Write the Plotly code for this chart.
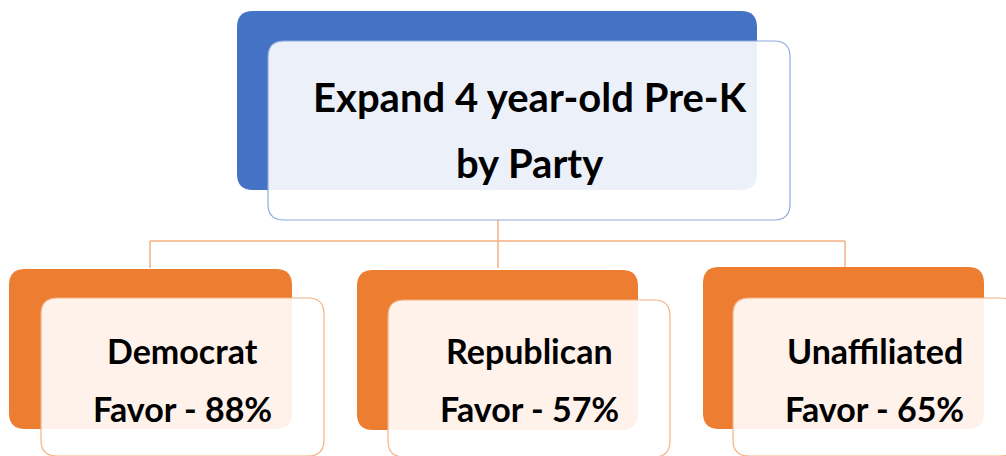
import plotly.graph_objects as go

# ---- data ----
title_lines = ["Expand 4 year-old Pre-K", "by Party"]
parties = ["Democrat", "Republican", "Unaffiliated"]
favor_pct = [88, 57, 65]

# ---- layout geometry (pixels, y downward) ----
W, H = 1006, 456
BLUE = "#4472C4"
ORANGE = "#ED7D31"
FONT = "Lato"

def rrect(x0, y0, x1, y1, r):
    return (f"M{x0+r},{y0} L{x1-r},{y0} Q{x1},{y0} {x1},{y0+r} "
            f"L{x1},{y1-r} Q{x1},{y1} {x1-r},{y1} L{x0+r},{y1} "
            f"Q{x0},{y1} {x0},{y1-r} L{x0},{y0+r} Q{x0},{y0} {x0+r},{y0} Z")

shapes = []
annotations = []

# connectors
conn = dict(color="#F4B183", width=1.5)
shapes.append(dict(type="line", x0=498, y0=220, x1=498, y1=241, line=conn, xref="x", yref="y"))
shapes.append(dict(type="line", x0=150, y0=241, x1=845, y1=241, line=conn, xref="x", yref="y"))
child_back = [(9, 269, 292, 429), (357, 270, 638, 430), (703, 267, 984, 429)]
child_front = [(41, 298, 324, 456), (388, 300, 670, 457), (733, 298, 1016, 456)]
for cx in [150, 498, 845]:
    shapes.append(dict(type="line", x0=cx, y0=241, x1=cx, y1=268, line=conn, xref="x", yref="y"))

# top box
shapes.append(dict(type="path", path=rrect(237, 11, 757, 190, 16), fillcolor=BLUE,
                   line=dict(width=0), xref="x", yref="y"))
shapes.append(dict(type="path", path=rrect(268, 41, 790, 220, 16),
                   fillcolor="rgba(255,255,255,0.9)", line=dict(color="#8FAADC", width=1.2),
                   xref="x", yref="y"))
title_cx = 530
for line, cy in zip(title_lines, [97, 163]):
    annotations.append(dict(x=title_cx, y=cy, text=f"<b>{line}</b>", showarrow=False,
                            xref="x", yref="y", xanchor="center", yanchor="middle",
                            font=dict(family=FONT, size=40, color="#000000")))

# child boxes
for (b, f, name, pct) in zip(child_back, child_front, parties, favor_pct):
    shapes.append(dict(type="path", path=rrect(*b, 16), fillcolor=ORANGE,
                       line=dict(width=0), xref="x", yref="y"))
    shapes.append(dict(type="path", path=rrect(*f, 16),
                       fillcolor="rgba(255,255,255,0.9)", line=dict(color="#F4B183", width=1.2),
                       xref="x", yref="y"))
    cx = (f[0] + f[2]) / 2
    for txt, cy in [(name, 350), (f"Favor - {pct}%", 408)]:
        annotations.append(dict(x=cx, y=cy, text=f"<b>{txt}</b>", showarrow=False,
                                xref="x", yref="y", xanchor="center", yanchor="middle",
                                font=dict(family=FONT, size=34, color="#000000")))

fig = go.Figure()
fig.update_layout(
    width=W, height=H,
    margin=dict(l=0, r=0, t=0, b=0),
    paper_bgcolor="white", plot_bgcolor="white",
    xaxis=dict(range=[0, W], visible=False, fixedrange=True),
    yaxis=dict(range=[H, 0], visible=False, fixedrange=True),
    shapes=shapes, annotations=annotations, showlegend=False,
)
fig.write_html("out.html", config={"displayModeBar": False},
               post_script="document.body.style.margin='0';document.body.style.overflow='hidden';")
